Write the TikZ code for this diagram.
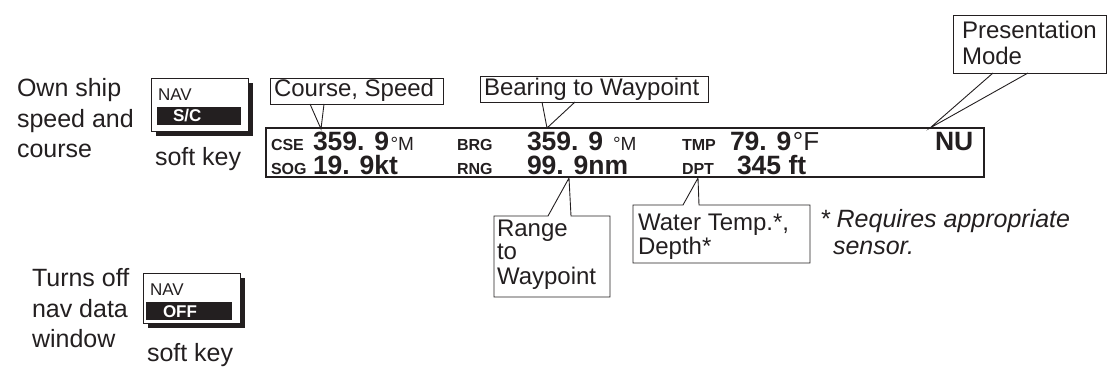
\documentclass[tikz,border=0pt]{standalone}
\usepackage{fontspec}
\setmainfont{Liberation Sans}
\usetikzlibrary{calc}
\definecolor{ink}{HTML}{231F20}
\begin{document}
\begin{tikzpicture}[x=1pt,y=-1pt,
  every node/.style={inner sep=0pt, outer sep=0pt, text=ink},
  big/.style={font=\fontsize{25}{30}\selectfont, anchor=base west},
  lbl/.style={font=\fontsize{24}{24}\selectfont, anchor=base west},
  note/.style={font=\itshape\fontsize{25}{25}\selectfont, anchor=base west},
  tag/.style={font=\bfseries\fontsize{16}{16}\selectfont, anchor=base west, text height=11.5pt, text depth=0pt},
  val/.style={font=\bfseries\fontsize{26.5}{26.5}\selectfont, anchor=base west, text height=19pt, text depth=0pt},
  unit/.style={font=\fontsize{19}{19}\selectfont, anchor=base west, text height=14pt, text depth=0pt},
  key/.style={font=\fontsize{17}{17}\selectfont, anchor=base west},
  keyb/.style={font=\bfseries\fontsize{17}{17}\selectfont, anchor=base west, text=white},
  frame/.style={draw=ink, line width=1.6pt},
  thin/.style={draw=ink, line width=0.9pt},
]
\useasboundingbox (0,0) rectangle (1111,371);

% ---------- soft key 1 ----------
\fill[ink] (156,83) rectangle (253,136);
\node[thin, fill=white, minimum width=97, minimum height=53, anchor=north west] (sk1) at (151,78) {};
\node[key] (sk1nav) at (158,101) {NAV};
\fill[ink] (157,107) rectangle (241,125);
\node[keyb] (sk1sc) at (173,122) {S/C};
\node[big] (l1) at (17,97) {Own ship};
\node[big] (l2) at (17,128) {speed and};
\node[big] (l3) at (17,158) {course};
\node[big] (sk1lab) at (155,166) {soft key};

% ---------- soft key 2 ----------
\fill[ink] (148,278) rectangle (245,328);
\node[thin, fill=white, minimum width=97, minimum height=50, anchor=north west] (sk2) at (143,273) {};
\node[key] (sk2nav) at (150,296) {NAV};
\fill[ink] (146,302) rectangle (232,320);
\node[keyb] (sk2off) at (163,317) {OFF};
\node[big] (m1) at (32,287) {Turns off};
\node[big] (m2) at (32,318) {nav data};
\node[big] (m3) at (32,347) {window};
\node[big] (sk2lab) at (147,361) {soft key};

% ---------- display ----------
\node[frame, minimum width=718, minimum height=49, anchor=north west] (disp) at (266,128) {};
\node[tag] (cse) at (271,151) {CSE};
\node[val] (csev) at (313,151) {359. 9};
\node[unit] at ($(csev.base east)+(1.5,0)$) {°M};
\node[tag] (brg) at (457,151) {BRG};
\node[val] (brgv) at (527,151) {359. 9};
\node[unit] at ($(brgv.base east)+(10,0)$) {°M};
\node[tag] (tmp) at (682,151) {TMP};
\node[val] (tmpv) at (730,151) {79. 9};
\node[font=\fontsize{26}{26}\selectfont, anchor=base west, text height=19pt, text depth=0pt] at ($(tmpv.base east)+(1.5,0)$) {°F};
\node[val] (nu) at (935,151) {NU};
\node[tag] (sog) at (271,174.5) {SOG};
\node[val] (sogv) at (313,174.5) {19. 9kt};
\node[tag] (rng) at (457,174.5) {RNG};
\node[val] (rngv) at (527,174.5) {99. 9nm};
\node[tag] (dpt) at (682,174.5) {DPT};
\node[val] (dptv) at (737,174.5) {345 ft};

% ---------- callouts above ----------
\node[thin, minimum width=173, minimum height=26, anchor=north west] (cs) at (270,78) {};
\node[lbl] at (274,97) {Course, Speed};
\coordinate (csA) at (321,129);
\draw[thin] ($(cs.south west)+(40,0)$) -- (csA) -- ($(cs.south west)+(54,0)$);

\node[thin, minimum width=228, minimum height=26, anchor=north west] (bw) at (480,76) {};
\node[lbl] at (484,96) {Bearing to Waypoint};
\coordinate (bwA) at (547,128);
\draw[thin] ($(bw.south west)+(62,0)$) -- (bwA) -- ($(bw.south west)+(95,0)$);

\node[thin, minimum width=153, minimum height=58, anchor=north west] (pm) at (953,15) {};
\node[lbl] at (962,39) {Presentation};
\node[lbl] at (962,65) {Mode};
\coordinate (pmA) at (930,128);
\draw[thin] ($(pm.south west)+(40,0)$) -- (pmA) -- ($(pm.south west)+(75,0)$);

% ---------- callouts below ----------
\coordinate (rwA) at (569,178);
\draw[thin] (548,216) -- (494,216) -- (494,297) -- (610,297) -- (610,216) -- (571,216) -- (rwA) -- cycle;
\node[lbl] (rw1) at (497,237) {Range};
\node[lbl] (rw2) at (497,260) {to};
\node[lbl] (rw3) at (497,285) {Waypoint};

\coordinate (wtA) at (698,178);
\draw[thin] (683,205) -- (633,205) -- (633,263) -- (810,263) -- (810,205) -- (699,205) -- (wtA) -- cycle;
\node[lbl] (wt1) at (638,231) {Water Temp.*,};
\node[lbl] (wt2) at (638,255) {Depth*};

\node[note] (rq1) at (820,228) {* Requires appropriate};
\node[note] (rq2) at (833,255) {sensor.};
\end{tikzpicture}
\end{document}
